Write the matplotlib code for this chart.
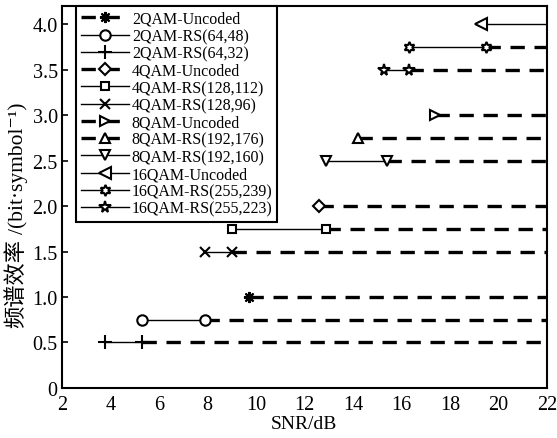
import matplotlib
matplotlib.use('Agg')
import matplotlib.pyplot as plt

# Spectral efficiency vs SNR threshold for each modulation / RS code
labels = ['2QAM-Uncoded', '2QAM-RS(64,48)', '2QAM-RS(64,32)',
          '4QAM-Uncoded', '4QAM-RS(128,112)', '4QAM-RS(128,96)',
          '8QAM-Uncoded', '8QAM-RS(192,176)', '8QAM-RS(192,160)',
          '16QAM-Uncoded', '16QAM-RS(255,239)', '16QAM-RS(255,223)']
efficiency = [1.0, 0.75, 0.5, 2.0, 1.75, 1.5, 3.0, 2.75, 2.5, 4.0, 3.75, 3.5]
snr_start = [9.7, 5.3, 3.8, 12.6, 9.0, 7.9, 17.4, 14.2, 12.9, 19.3, 16.3, 15.3]
snr_end = [None, 7.9, 5.3, None, 12.9, 9.0, None, None, 15.4, None, 19.5, 16.3]
dashed = [True, False, False, True, False, False, True, True, False, False, False, False]
markers = [(8, 2, 0), 'o', '+', 'D', 's', 'x', '>', '^', 'v', '<', (6, 1, 0), '*']
marker_sizes = [8, 7.5, 10, 6, 5.5, 6.5, 7.5, 7.5, 7.5, 8, 8, 8.5]

x_ticks = [2, 4, 6, 8, 10, 12, 14, 16, 18, 20, 22]
y_ticks = [0, 0.5, 1.0, 1.5, 2.0, 2.5, 3.0, 3.5, 4.0]
y_tick_labels = ['0', '0.5', '1.0', '1.5', '2.0', '2.5', '3.0', '3.5', '4.0']
x_max = 22

plt.rcParams['font.family'] = ['Liberation Serif', 'Noto Sans CJK SC', 'DejaVu Serif']

fig = plt.figure(figsize=(5.57, 4.39), dpi=100)
ax = fig.add_axes([0.111, 0.114, 0.871, 0.870])

dash_seq = (4.3, 2.9)
for i in range(len(labels)):
    y = efficiency[i]
    mk = dict(marker=markers[i], markersize=marker_sizes[i], markerfacecolor='white',
              markeredgecolor='black', markeredgewidth=1.5, color='black')
    if snr_end[i] is None:
        if dashed[i]:
            ax.plot([snr_start[i], x_max], [y, y], lw=2.4, dashes=dash_seq,
                    markevery=[0], label=labels[i], **mk)
        else:
            ax.plot([snr_start[i], x_max], [y, y], lw=1.0,
                    markevery=[0], label=labels[i], **mk)
    else:
        ax.plot([snr_end[i], x_max], [y, y], color='black', lw=2.4, dashes=dash_seq)
        ax.plot([snr_start[i], snr_end[i]], [y, y], lw=1.0, label=labels[i], **mk)

ax.set_xlim(2, 22)
ax.set_ylim(0, 4.2)
ax.set_xticks(x_ticks)
ax.set_xticklabels([str(t) for t in x_ticks])
ax.set_yticks(y_ticks)
ax.set_yticklabels(y_tick_labels)
ax.tick_params(axis='x', length=0, pad=5, labelsize=14.5)
ax.tick_params(axis='y', direction='in', length=4, width=1.2, pad=3, labelsize=14.5)
for s in ax.spines.values():
    s.set_linewidth(1.5)

ax.set_xlabel('SNR/dB', fontsize=14, labelpad=1)
# y label in two parts: the Chinese characters are set larger than the unit
fig.text(17 / 557, 1 - 283 / 439, '频谱效率', rotation=90, fontsize=16,
         ha='center', va='center')
fig.text(18 / 557, 1 - 168 / 439, '/(bit·symbol⁻¹)', rotation=90, fontsize=15.5,
         ha='center', va='center')

leg = ax.legend(loc='upper left', bbox_to_anchor=(0.029, 1.0), borderaxespad=0,
                fontsize=11.5, labelspacing=0.08, handlelength=3.0, handletextpad=0.2,
                borderpad=0.3, fancybox=False, edgecolor='black', framealpha=1)
leg.get_frame().set_linewidth(1.5)

fig.savefig('out.png', dpi=100)
